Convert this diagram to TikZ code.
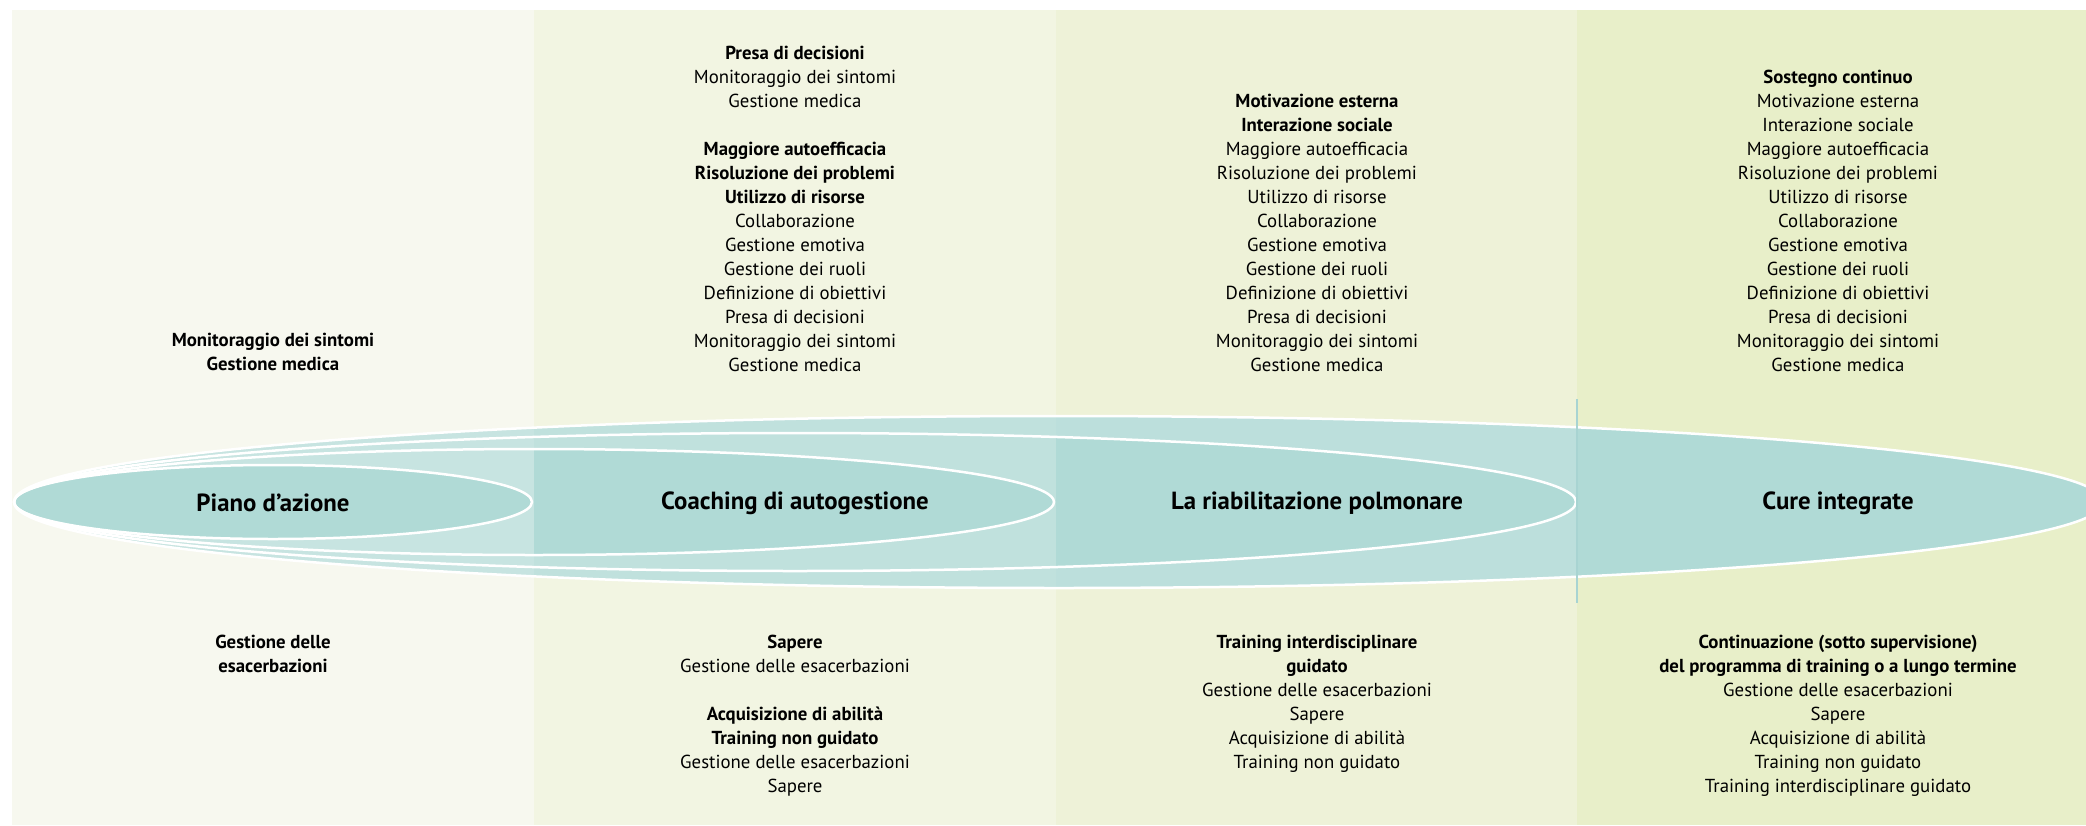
\documentclass[tikz,border=0pt]{standalone}
\usepackage{fontspec}
\setmainfont{PT Sans}
\usepackage{tikz}
\usetikzlibrary{positioning}
\definecolor{tealDark}{RGB}{176,218,214}
\definecolor{tealLine}{RGB}{168,212,210}
\definecolor{ringOne}{RGB}{199,228,225}
\definecolor{ringTwo}{RGB}{192,225,221}
\definecolor{ringThree}{RGB}{188,223,220}
\definecolor{colOne}{RGB}{247,248,239}
\definecolor{colTwo}{RGB}{242,245,226}
\definecolor{colThree}{RGB}{238,242,216}
\definecolor{colFour}{RGB}{232,239,201}
\tikzstyle{txt} = [align=center,inner sep=0pt,anchor=north,font=\fontsize{18.8}{24}\selectfont]
\tikzstyle{title} = [inner sep=0pt,font=\fontsize{24.8}{28}\selectfont\bfseries]
\tikzstyle{rim} = [draw=white,line width=2.5pt]

\begin{document}
\begin{tikzpicture}[x=1pt,y=-1pt]

    \useasboundingbox (0,0) rectangle (2086,825); % same frame as the page

    % four column panels
    \fill[colOne]   (12,10)   rectangle (534,825);
    \fill[colTwo]   (534,10)  rectangle (1056,825);
    \fill[colThree] (1056,10) rectangle (1577,825);
    \fill[colFour]  (1577,10) rectangle (2086,825);

    % nested ellipses, all starting at x=14
    \foreach \xa/\xb/\rx/\ry/\ring in {12/534/259/37/ringOne,
                                       534/1056/520/53/ringTwo,
                                       1056/1577/781/69/ringThree,
                                       1577/2086/1045/86/tealDark}{%
      \begin{scope}
        \clip (\xa,10) rectangle (\xb,825);
        \fill[\ring] (1059,502) ellipse [x radius=1045, y radius=86];
        \fill[tealDark] (14+\rx,502) ellipse [x radius=\rx, y radius=\ry];
      \end{scope}
    }
    \foreach \rx/\ry in {1045/86,781/69,520/53,259/37}{%
      \draw[rim] (14+\rx,502) ellipse [x radius=\rx, y radius=\ry];
    }
    \draw[tealLine,line width=1.5pt] (1577,399) -- (1577,603);

    \node[title] (piano)    at (273,503)  {Piano d’azione};
    \node[title] (coaching) at (795,503)  {Coaching di autogestione};
    \node[title] (riab)     at (1317,503) {La riabilitazione polmonare};
    \node[title] (cure)     at (1838,503) {Cure integrate};

    % upper lists
    \node[txt] (upOne) at (273,333) {\textbf{Monitoraggio dei sintomi}\\
      \textbf{Gestione medica}};
    \node[txt] (upTwo) at (795,46) {\textbf{Presa di decisioni}\\
      Monitoraggio dei sintomi\\ Gestione medica\\[24pt]
      \textbf{Maggiore autoefficacia}\\ \textbf{Risoluzione dei problemi}\\
      \textbf{Utilizzo di risorse}\\ Collaborazione\\ Gestione emotiva\\
      Gestione dei ruoli\\ Definizione di obiettivi\\ Presa di decisioni\\
      Monitoraggio dei sintomi\\ Gestione medica};
    \node[txt] (upThree) at (1317,94) {\textbf{Motivazione esterna}\\
      \textbf{Interazione sociale}\\ Maggiore autoefficacia\\
      Risoluzione dei problemi\\ Utilizzo di risorse\\ Collaborazione\\
      Gestione emotiva\\ Gestione dei ruoli\\ Definizione di obiettivi\\
      Presa di decisioni\\ Monitoraggio dei sintomi\\ Gestione medica};
    \node[txt] (upFour) at (1838,70) {\textbf{Sostegno continuo}\\
      Motivazione esterna\\ Interazione sociale\\ Maggiore autoefficacia\\
      Risoluzione dei problemi\\ Utilizzo di risorse\\ Collaborazione\\
      Gestione emotiva\\ Gestione dei ruoli\\ Definizione di obiettivi\\
      Presa di decisioni\\ Monitoraggio dei sintomi\\ Gestione medica};

    % lower lists
    \node[txt] (lowOne) at (273,635) {\textbf{Gestione delle}\\
      \textbf{esacerbazioni}};
    \node[txt] (lowTwo) at (795,635) {\textbf{Sapere}\\
      Gestione delle esacerbazioni\\[24pt]
      \textbf{Acquisizione di abilità}\\ \textbf{Training non guidato}\\
      Gestione delle esacerbazioni\\ Sapere};
    \node[txt] (lowThree) at (1317,635) {\textbf{Training interdisciplinare}\\
      \textbf{guidato}\\ Gestione delle esacerbazioni\\ Sapere\\
      Acquisizione di abilità\\ Training non guidato};
    \node[txt] (lowFour) at (1838,635) {\textbf{Continuazione (sotto supervisione)}\\
      \textbf{del programma di training o a lungo termine}\\
      Gestione delle esacerbazioni\\ Sapere\\ Acquisizione di abilità\\
      Training non guidato\\ Training interdisciplinare guidato};

\end{tikzpicture}
\end{document}
